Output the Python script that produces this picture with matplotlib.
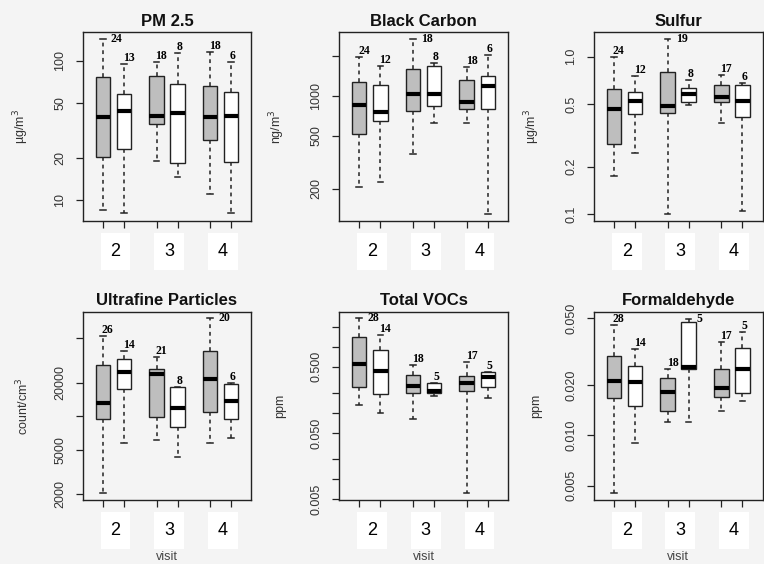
import matplotlib
matplotlib.use("Agg")
import matplotlib.pyplot as plt
import matplotlib.transforms as mtransforms
import numpy as np

plt.rcParams['font.family'] = ['Liberation Sans', 'DejaVu Sans']

# box order: visit 2 (grey, white), visit 3 (grey, white), visit 4 (grey, white)
# each row: whisker low, Q1, median, Q3, whisker high
visits = ['2', '3', '4']

pm25 = [[8.5, 20.5, 39.3, 76, 143],
        [8.1, 23.3, 43.4, 57.4, 94],
        [19.1, 35.2, 40.4, 78, 98],
        [14.6, 18.4, 42, 68.4, 113],
        [11.1, 26.9, 39.1, 65.2, 114.6],
        [8.1, 18.8, 40.2, 60, 98]]
pm25_n = [24, 13, 18, 8, 18, 6]

black_carbon = [[208, 515, 855, 1268, 1977],
                [225, 645, 762, 1210, 1690],
                [366, 776, 1029, 1587, 2685],
                [630, 841, 1035, 1690, 1780],
                [624, 798, 896, 1312, 1644],
                [129, 795, 1189, 1407, 2032]]
black_carbon_n = [24, 12, 18, 8, 18, 6]

sulfur = [[0.174, 0.279, 0.467, 0.62, 1.0],
          [0.243, 0.43, 0.525, 0.594, 0.754],
          [0.10, 0.437, 0.486, 0.80, 1.296],
          [0.491, 0.518, 0.577, 0.635, 0.711],
          [0.377, 0.513, 0.552, 0.661, 0.765],
          [0.105, 0.412, 0.525, 0.661, 0.678]]
sulfur_n = [24, 12, 19, 8, 17, 6]

ultrafine = [[2050, 9430, 13210, 28840, 52900],
             [5773, 17550, 25100, 32430, 38550],
             [6110, 9770, 23920, 26560, 33800],
             [4270, 8040, 11920, 18200, 18400],
             [5773, 10960, 21580, 38800, 75900],
             [6400, 9430, 13680, 19600, 19750]]
ultrafine_n = [26, 14, 21, 8, 20, 6]

vocs = [[0.132, 0.244, 0.55, 1.39, 2.69],
        [0.099, 0.194, 0.43, 0.893, 1.50],
        [0.080, 0.203, 0.256, 0.375, 0.53],
        [0.181, 0.199, 0.217, 0.281, 0.281],
        [0.0063, 0.215, 0.281, 0.362, 0.594],
        [0.167, 0.244, 0.346, 0.411, 0.411]]
vocs_n = [28, 14, 18, 5, 17, 5]

formaldehyde = [[0.00454, 0.01663, 0.0211, 0.0299, 0.0456],
                [0.00904, 0.01496, 0.0209, 0.0261, 0.0328],
                [0.01196, 0.01397, 0.0181, 0.0219, 0.0249],
                [0.01196, 0.0249, 0.0257, 0.0477, 0.0493],
                [0.01402, 0.0170, 0.0191, 0.0249, 0.0362],
                [0.016, 0.018, 0.025, 0.0331, 0.0416]]
formaldehyde_n = [28, 14, 18, 5, 17, 5]

panels = [
    dict(title='PM 2.5', ylabel=r'µg/m$^3$', data=pm25, n=pm25_n,
         ylim=(7.1, 160), ticks=[10, 20, 50, 100], labels=['10', '20', '50', '100']),
    dict(title='Black Carbon', ylabel=r'ng/m$^3$', data=black_carbon, n=black_carbon_n,
         ylim=(114.7, 3031), ticks=[200, 500, 1000, 2000], labels=['200', '500', '1000', '']),
    dict(title='Sulfur', ylabel=r'µg/m$^3$', data=sulfur, n=sulfur_n,
         ylim=(0.0903, 1.436), ticks=[0.1, 0.2, 0.5, 1.0], labels=['0.1', '0.2', '0.5', '1.0']),
    dict(title='Ultrafine Particles', ylabel=r'count/cm$^3$', data=ultrafine, n=ultrafine_n,
         ylim=(1763, 87000), ticks=[2000, 5000, 10000, 20000, 50000],
         labels=['2000', '5000', '', '20000', '']),
    dict(title='Total VOCs', ylabel='ppm', data=vocs, n=vocs_n,
         ylim=(0.00488, 3.38), ticks=[0.005, 0.01, 0.02, 0.05, 0.1, 0.2, 0.5, 1, 2],
         labels=['0.005', '', '', '0.050', '', '', '0.500', '', '']),
    dict(title='Formaldehyde', ylabel='ppm', data=formaldehyde, n=formaldehyde_n,
         ylim=(0.00411, 0.0547), ticks=[0.005, 0.01, 0.02, 0.05],
         labels=['0.005', '0.010', '0.020', '0.050']),
]

bg = '#f4f4f4'
txt = '#333333'
W, H = 764, 564
fig = plt.figure(figsize=(W / 100, H / 100), dpi=100, facecolor=bg)

col_left = [83, 339, 594]
col_width = [168, 169, 168.5]
row_top = [32, 311.7]
row_height = [189, 188.3]

positions = []
for i in range(len(visits)):
    positions += [1 + i * 2.55, 2 + i * 2.55]

for k, p in enumerate(panels):
    r, c = divmod(k, 3)
    ax = fig.add_axes([col_left[c] / W, 1 - (row_top[r] + row_height[r]) / H,
                       col_width[c] / W, row_height[r] / H])
    ax.set_facecolor(bg)
    stats = [dict(whislo=d[0], q1=d[1], med=d[2], q3=d[3], whishi=d[4], fliers=[])
             for d in p['data']]
    bp = ax.bxp(stats, positions=positions, widths=0.7, capwidths=0.25,
                patch_artist=True, showfliers=False,
                boxprops=dict(edgecolor='#222222', linewidth=1.0),
                medianprops=dict(color='black', linewidth=3, solid_capstyle='butt'),
                whiskerprops=dict(color='#222222', linewidth=1.1, linestyle=(0, (2.5, 2.5))),
                capprops=dict(color='#222222', linewidth=1.1))
    for j, box in enumerate(bp['boxes']):
        box.set_facecolor('#bebebe' if j % 2 == 0 else 'white')

    ax.set_yscale('log')
    ax.set_ylim(*p['ylim'])
    ax.set_xlim(0.05, 8.05)
    ax.yaxis.set_major_locator(matplotlib.ticker.FixedLocator(p['ticks']))
    ax.yaxis.set_major_formatter(matplotlib.ticker.FixedFormatter(p['labels']))
    ax.yaxis.set_minor_locator(matplotlib.ticker.NullLocator())
    ax.set_xticks(positions)
    ax.set_xticklabels([])
    ax.tick_params(axis='both', direction='out', length=5, width=0.9, color='#222222')
    ax.tick_params(axis='y', labelsize=9, labelcolor=txt, pad=7)
    for lab in ax.get_yticklabels():
        lab.set_rotation(90)
        lab.set_va('center')
    for s in ax.spines.values():
        s.set_linewidth(1.0)
        s.set_color('#222222')

    ax.set_title(p['title'], fontsize=12, fontweight='bold', pad=4.5, color='#111111')
    ax.set_ylabel(p['ylabel'], fontsize=9, color=txt)
    ax.yaxis.set_label_coords(-0.31, 0.5)

    # sample-size labels next to the upper whisker
    lo, hi = np.log10(p['ylim'])
    for pos, d, n in zip(positions, p['data'], p['n']):
        frac = (np.log10(d[4]) - lo) / (hi - lo)
        if frac > 0.94:
            ax.text(pos + 0.38, d[4], str(n), ha='left', va='center', fontsize=8.5,
                    fontweight='bold', family='Liberation Serif')
        else:
            ax.text(pos - 0.05, d[4], str(n), ha='left', va='bottom', fontsize=8.5,
                    fontweight='bold', family='Liberation Serif')

    # visit labels on white patches below the axis
    trans = mtransforms.blended_transform_factory(ax.transData, ax.transAxes)
    for i, v in enumerate(visits):
        xc = (positions[2 * i] + positions[2 * i + 1]) / 2 + 0.1
        ax.text(xc, -0.16, v, transform=trans, ha='center', va='center', fontsize=13,
                color='black',
                bbox=dict(boxstyle='square,pad=0.55', facecolor='white', edgecolor='none'))

    if r == 1:
        ax.set_xlabel('visit', fontsize=9, color='#444444')
        ax.xaxis.set_label_coords(0.5, -0.27)

fig.savefig('out.png', dpi=100, facecolor=fig.get_facecolor())
